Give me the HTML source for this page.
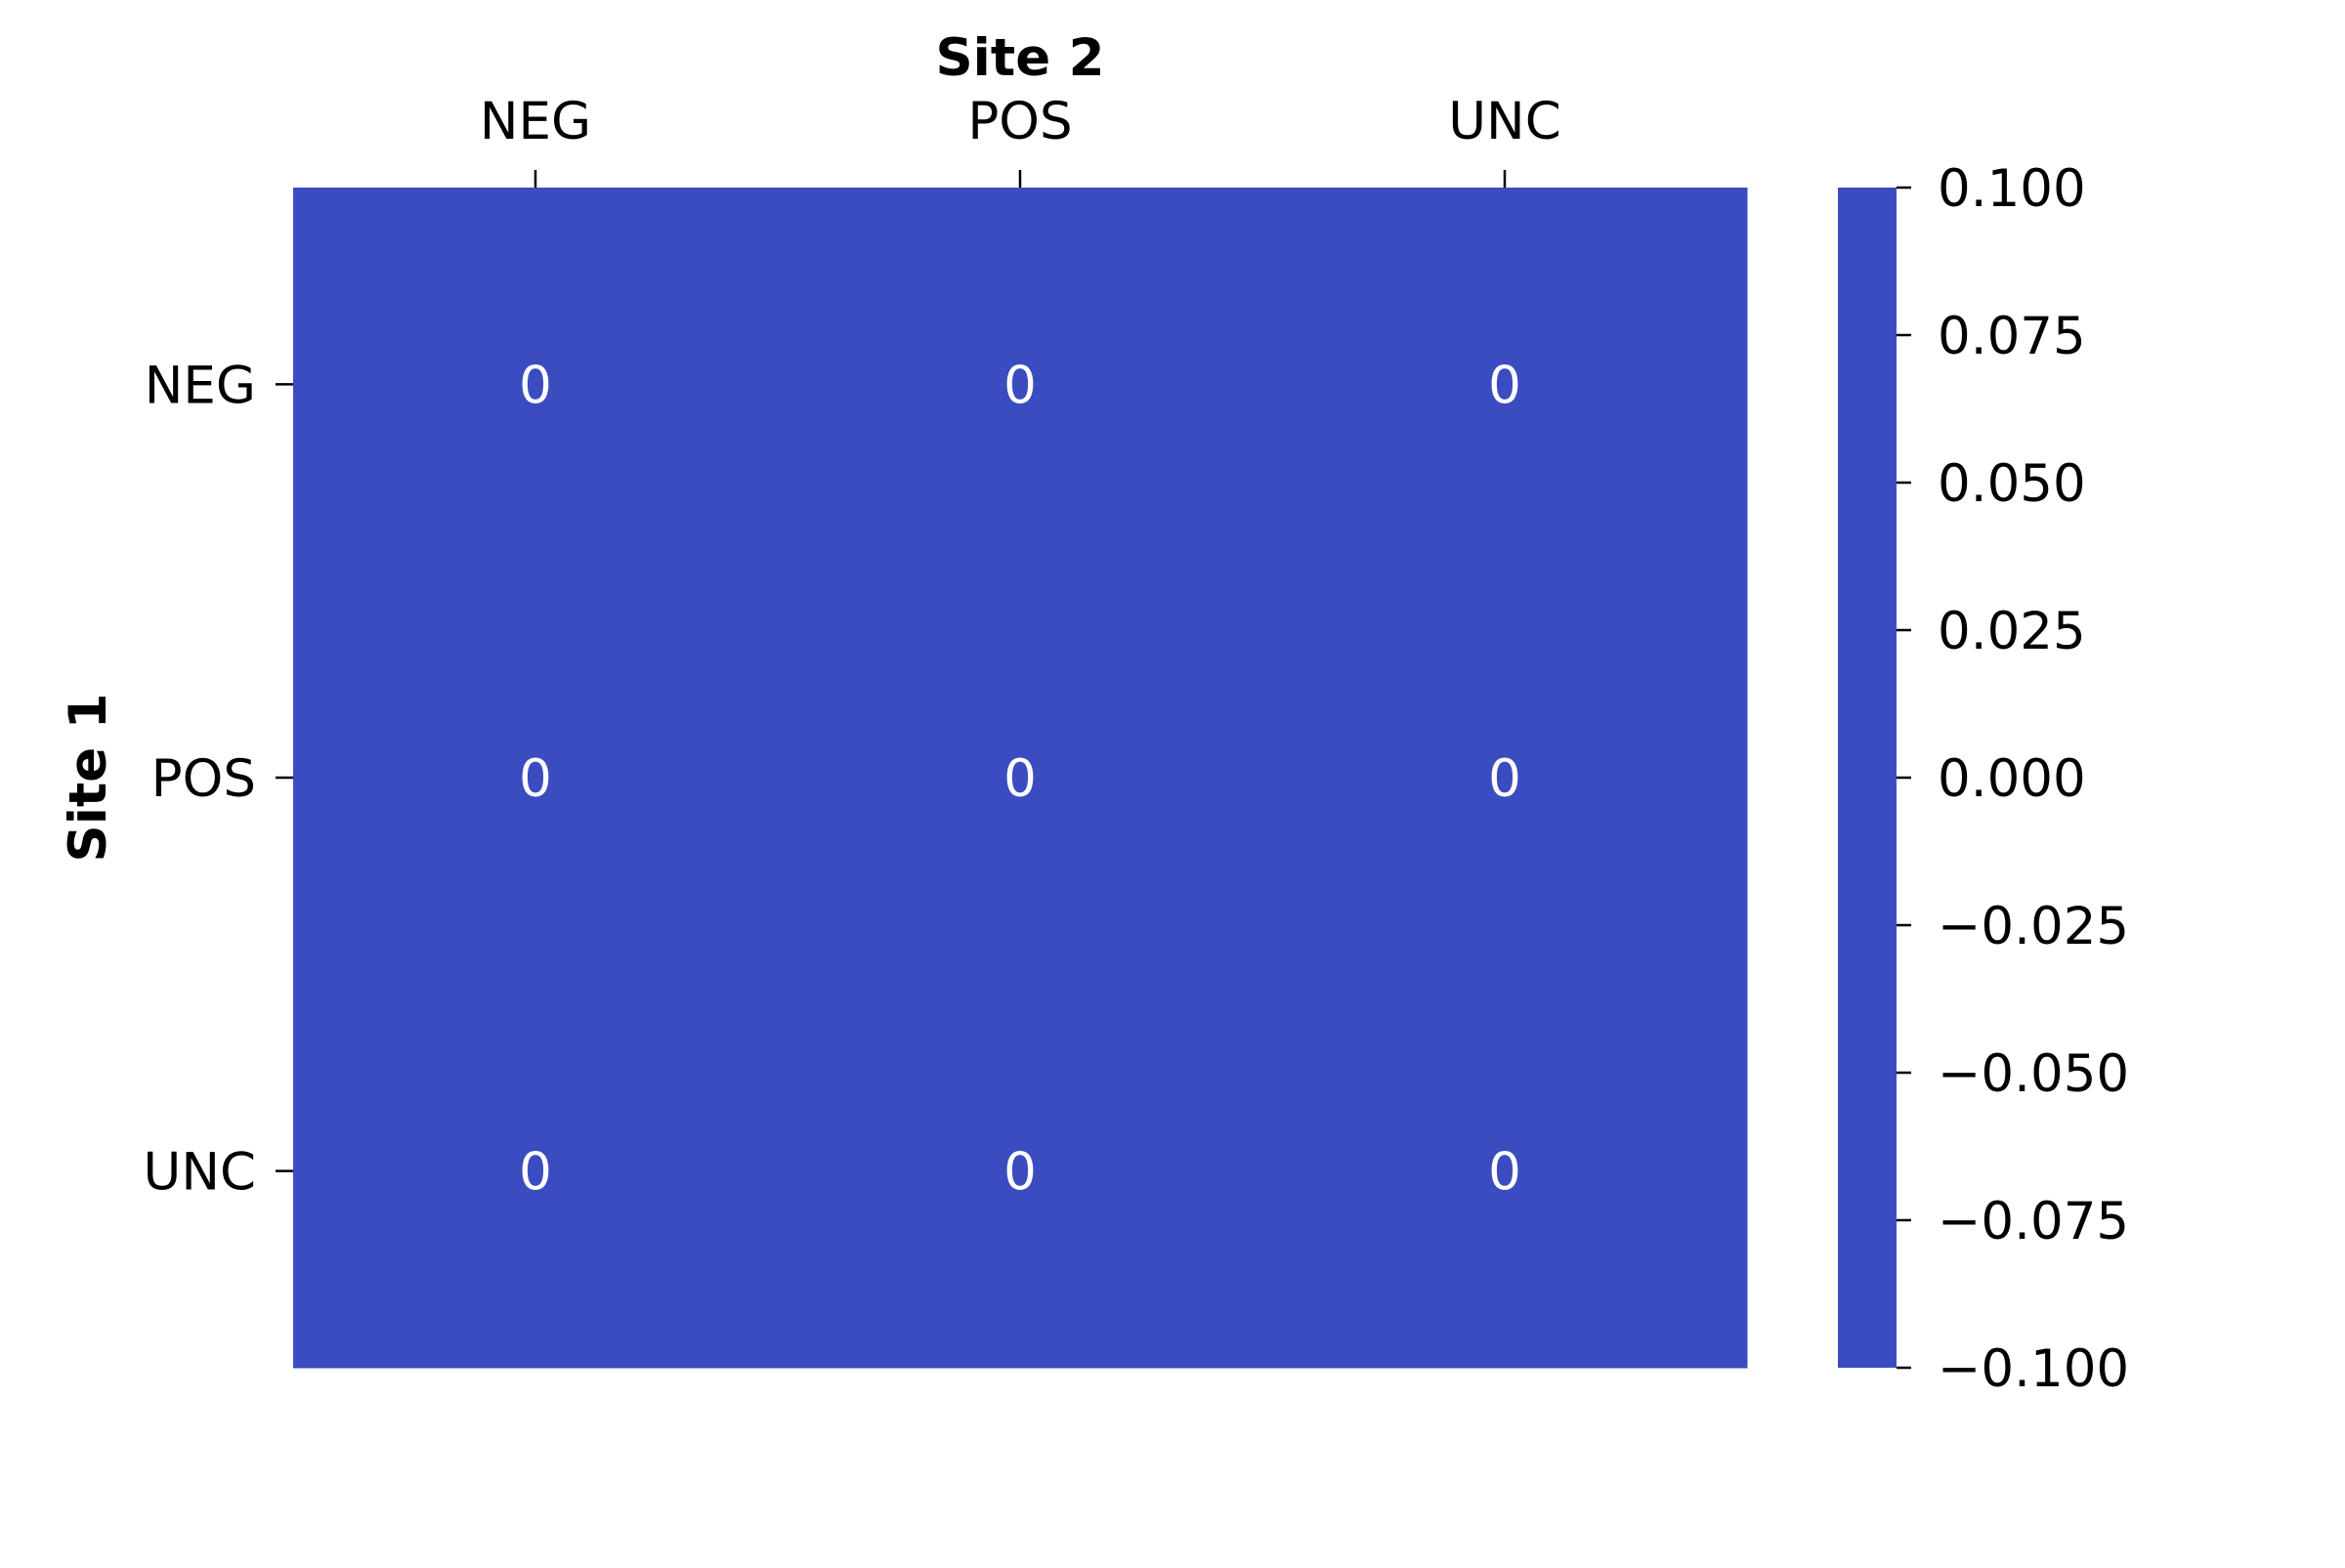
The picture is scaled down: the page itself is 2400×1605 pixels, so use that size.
<!DOCTYPE html>
<html><head><meta charset="utf-8"><style>
body{margin:0;background:#fff;}
svg text{font-family:"DejaVu Sans","Liberation Sans",sans-serif;}
</style></head><body>
<svg id="chart" width="2400" height="1600" viewBox="0 0 2400 1600" xmlns="http://www.w3.org/2000/svg"></svg>
<script>
const colCategories = ["NEG","POS","UNC"];
const rowCategories = ["NEG","POS","UNC"];
const cellValues = [[0,0,0],[0,0,0],[0,0,0]];
const cbarTicks = [0.1,0.075,0.05,0.025,0,-0.025,-0.05,-0.075,-0.1];
const cbarLabels = ["0.100","0.075","0.050","0.025","0.000","\u22120.025","\u22120.050","\u22120.075","\u22120.100"];

const NS="http://www.w3.org/2000/svg";
const svg=document.getElementById('chart');
function mk(tag,attrs,parent){const e=document.createElementNS(NS,tag);for(const k in attrs)e.setAttribute(k,attrs[k]);(parent||svg).appendChild(e);return e;}
const L=300,R=1788,T=192,B=1400;
const cw=(R-L)/colCategories.length, rh=(B-T)/rowCategories.length;
const xPos=i=>L+cw*(i+0.5), yPos=j=>T+rh*(j+0.5);
const vmin=-0.1,vmax=0.1;
const cbY=v=>B-(v-vmin)/(vmax-vmin)*(B-T);
function color(v){return "#3b4cc0";}

rowCategories.forEach((r,j)=>{colCategories.forEach((c,i)=>{
  const rect=mk('rect',{x:L+cw*i,y:T+rh*j,width:cw+0.5,height:rh+0.5,fill:color(cellValues[j][i])});
  
  
  const t=mk('text',{x:xPos(i),y:yPos(j)+19,'text-anchor':'middle','font-size':53,fill:'#fff'});
  t.textContent=String(cellValues[j][i]);
  
  
});});

colCategories.forEach((c,i)=>{
  const tk=mk('line',{x1:xPos(i),x2:xPos(i),y1:174,y2:T,stroke:'#000','stroke-width':2.5});
  
  
  const t=mk('text',{x:xPos(i),y:142,'text-anchor':'middle','font-size':53});
  t.textContent=c;
  
  
});
rowCategories.forEach((r,j)=>{
  const tk=mk('line',{x1:282,x2:L,y1:yPos(j),y2:yPos(j),stroke:'#000','stroke-width':2.5});
  
  
  const t=mk('text',{x:262,y:yPos(j)+19,'text-anchor':'end','font-size':53});
  t.textContent=r;
  
  
});

const xt=mk('text',{x:1044,y:77,'text-anchor':'middle','font-size':53,'font-weight':'bold'});
xt.textContent="Site 2";


const yt=mk('text',{x:0,y:0,'text-anchor':'middle','font-size':53,'font-weight':'bold',transform:'translate(108,796) rotate(-90)'});
yt.textContent="Site 1";



const cb=mk('rect',{x:1881,y:T,width:60,height:B-T,fill:'#3b4cc0'});


cbarTicks.forEach((v,k)=>{
  const y=cbY(v);
  const tk=mk('line',{x1:1941,x2:1956,y1:y,y2:y,stroke:'#000','stroke-width':2.5});
  
  
  const t=mk('text',{x:1983,y:y+19,'font-size':53});
  t.textContent=cbarLabels[k];
  
  
});
</script>
</body></html>
